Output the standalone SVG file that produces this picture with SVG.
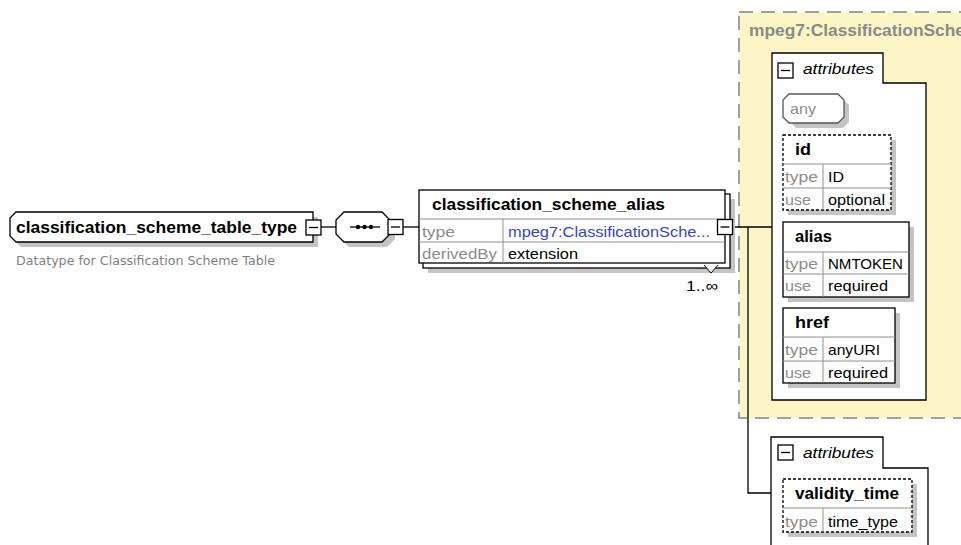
<svg xmlns="http://www.w3.org/2000/svg" width="961" height="545" viewBox="0 0 961 545">
<style>
.ln{fill:none;stroke:#000;stroke-width:1.3}
.bx{fill:#fff;stroke:#000;stroke-width:1.3}
.dbx{fill:#fff;stroke:#000;stroke-width:1.3;stroke-dasharray:3,2}
.sh{fill:#c4c4c4}
.cell{fill:none;stroke:#909090;stroke-width:1}
.b{font-family:"Liberation Sans",Arial,sans-serif;font-weight:bold;font-size:16px;fill:#000}
.t{font-family:"Liberation Sans",Arial,sans-serif;font-size:15px;fill:#000}
.g{font-family:"Liberation Sans",Arial,sans-serif;font-size:15px;fill:#8c8c8c}
.i{font-family:"Liberation Sans",Arial,sans-serif;font-style:italic;font-size:15px;fill:#000}
.d{font-family:"DejaVu Sans",Verdana,sans-serif;font-size:12.5px;fill:#808080}
</style>
<defs>
<g id="minus"><rect x="0" y="0" width="15" height="15" fill="#fff" stroke="#000" stroke-width="1.3"/><line x1="3" y1="7.5" x2="12" y2="7.5" stroke="#000" stroke-width="1.3"/></g>
</defs>
<rect x="0" y="0" width="961" height="545" fill="#fff"/>

<g id="complexType-group">
<rect x="739" y="12" width="230" height="406" fill="#fcf6c6" stroke="#a0a0a0" stroke-width="2" stroke-dasharray="14,8"/>
<text x="749" y="36" class="b" style="fill:#8a8a8a" textLength="216" lengthAdjust="spacingAndGlyphs">mpeg7:ClassificationSche</text>
</g>

<g id="connectors">
<line class="ln" x1="321" y1="227" x2="336" y2="227"/>
<line class="ln" x1="403" y1="227" x2="419" y2="227"/>
<line class="ln" x1="733" y1="227" x2="772" y2="227"/>
<polyline class="ln" points="748,227 748,493 771,493"/>
</g>

<g id="node-root">
<path class="sh" d="M21,217 H318 V247 H21 L15,241 V223 Z"/>
<path class="bx" d="M16,212 H313 V242 H16 L10,236 V218 Z"/>
<text x="16" y="233" class="b" textLength="281" lengthAdjust="spacingAndGlyphs">classification_scheme_table_type</text>
<use href="#minus" x="306" y="220"/>
<text x="16" y="265" class="d" textLength="259" lengthAdjust="spacingAndGlyphs">Datatype for Classification Scheme Table</text>
</g>

<g id="node-sequence">
<path class="sh" d="M349,217 H387 L395,225 V239 L387,247 H349 L341,239 V225 Z"/>
<path class="bx" d="M344,212 H382 L390,220 V234 L382,242 H344 L336,234 V220 Z"/>
<line class="ln" x1="350" y1="227" x2="380" y2="227"/>
<circle cx="358" cy="227" r="2.2"/><circle cx="364.5" cy="227" r="2.2"/><circle cx="371" cy="227" r="2.2"/>
<use href="#minus" x="388" y="219.5"/>
</g>

<g id="node-alias">
<rect class="sh" x="428" y="199" width="307" height="74"/>
<rect class="bx" x="423" y="194" width="307" height="74"/>
<rect class="bx" x="419" y="190" width="306" height="73"/>
<line class="cell" x1="419" y1="219" x2="725" y2="219"/>
<line class="cell" x1="419" y1="242" x2="725" y2="242"/>
<line class="cell" x1="503" y1="219" x2="503" y2="263"/>
<text x="432" y="210" class="b" textLength="233" lengthAdjust="spacingAndGlyphs">classification_scheme_alias</text>
<text x="422" y="237" class="g" textLength="33" lengthAdjust="spacingAndGlyphs">type</text>
<text x="508" y="237" class="t" style="fill:#3348b8" textLength="202" lengthAdjust="spacingAndGlyphs">mpeg7:ClassificationSche...</text>
<text x="422" y="259" class="g" textLength="75" lengthAdjust="spacingAndGlyphs">derivedBy</text>
<text x="508" y="259" class="t" textLength="70" lengthAdjust="spacingAndGlyphs">extension</text>
<use href="#minus" x="717.5" y="219.5"/>
<polyline points="704,265 711,273 718,265" fill="#fff" stroke="#000" stroke-width="1"/>
<text x="686" y="291" class="t" textLength="32" lengthAdjust="spacingAndGlyphs">1..∞</text>
</g>

<g id="node-attributes1">
<path class="bx" d="M772,53 H883 V83 H926 V400 H772 Z"/>
<use href="#minus" x="778" y="63"/>
<text x="803" y="74" class="i" textLength="71" lengthAdjust="spacingAndGlyphs">attributes</text>
</g>

<g id="node-any">
<path class="sh" d="M796,99 H843 L849,105 V122 L843,128 H796 L790,122 V105 Z"/>
<path fill="#fff" stroke="#555" stroke-width="1.3" d="M789,94 H838 L844,100 V117 L838,123 H789 L783,117 V100 Z"/>
<text x="790" y="114" class="g" textLength="26" lengthAdjust="spacingAndGlyphs">any</text>
</g>

<g id="node-id">
<rect class="sh" x="788" y="140" width="108" height="75"/>
<rect class="dbx" x="783" y="135" width="108" height="75"/>
<line class="cell" x1="783" y1="164" x2="891" y2="164"/>
<line class="cell" x1="783" y1="188" x2="891" y2="188"/>
<line class="cell" x1="823" y1="164" x2="823" y2="210"/>
<text x="795" y="155" class="b" textLength="16" lengthAdjust="spacingAndGlyphs">id</text>
<text x="785" y="182" class="g" textLength="33" lengthAdjust="spacingAndGlyphs">type</text>
<text x="828" y="182" class="t" textLength="16" lengthAdjust="spacingAndGlyphs">ID</text>
<text x="785" y="205" class="g" textLength="26" lengthAdjust="spacingAndGlyphs">use</text>
<text x="828" y="205" class="t" textLength="57" lengthAdjust="spacingAndGlyphs">optional</text>
</g>

<g id="node-alias-attr">
<rect class="sh" x="788" y="227" width="126" height="75"/>
<rect class="bx" x="783" y="222" width="126" height="75"/>
<line class="cell" x1="783" y1="252" x2="909" y2="252"/>
<line class="cell" x1="783" y1="274" x2="909" y2="274"/>
<line class="cell" x1="823" y1="252" x2="823" y2="297"/>
<text x="795" y="242" class="b" textLength="37" lengthAdjust="spacingAndGlyphs">alias</text>
<text x="785" y="269" class="g" textLength="33" lengthAdjust="spacingAndGlyphs">type</text>
<text x="828" y="269" class="t" textLength="75" lengthAdjust="spacingAndGlyphs">NMTOKEN</text>
<text x="785" y="291" class="g" textLength="26" lengthAdjust="spacingAndGlyphs">use</text>
<text x="828" y="291" class="t" textLength="60" lengthAdjust="spacingAndGlyphs">required</text>
</g>

<g id="node-href">
<rect class="sh" x="788" y="313" width="112" height="75"/>
<rect class="bx" x="783" y="308" width="112" height="75"/>
<line class="cell" x1="783" y1="337" x2="895" y2="337"/>
<line class="cell" x1="783" y1="361" x2="895" y2="361"/>
<line class="cell" x1="823" y1="337" x2="823" y2="383"/>
<text x="795" y="328" class="b" textLength="34" lengthAdjust="spacingAndGlyphs">href</text>
<text x="785" y="355" class="g" textLength="33" lengthAdjust="spacingAndGlyphs">type</text>
<text x="828" y="355" class="t" textLength="52" lengthAdjust="spacingAndGlyphs">anyURI</text>
<text x="785" y="378" class="g" textLength="26" lengthAdjust="spacingAndGlyphs">use</text>
<text x="828" y="378" class="t" textLength="60" lengthAdjust="spacingAndGlyphs">required</text>
</g>

<g id="node-attributes2">
<path class="bx" d="M771,437 H883 V468 H928 V560 H771 Z"/>
<use href="#minus" x="778" y="445"/>
<text x="803" y="458" class="i" textLength="71" lengthAdjust="spacingAndGlyphs">attributes</text>
</g>

<g id="node-validity">
<rect class="sh" x="788" y="484" width="129" height="53"/>
<rect class="dbx" x="783" y="479" width="129" height="53"/>
<line class="cell" x1="783" y1="508" x2="912" y2="508"/>
<line class="cell" x1="823" y1="508" x2="823" y2="532"/>
<text x="795" y="499" class="b" textLength="104" lengthAdjust="spacingAndGlyphs">validity_time</text>
<text x="785" y="527" class="g" textLength="33" lengthAdjust="spacingAndGlyphs">type</text>
<text x="828" y="527" class="t" textLength="70" lengthAdjust="spacingAndGlyphs">time_type</text>
</g>
</svg>
